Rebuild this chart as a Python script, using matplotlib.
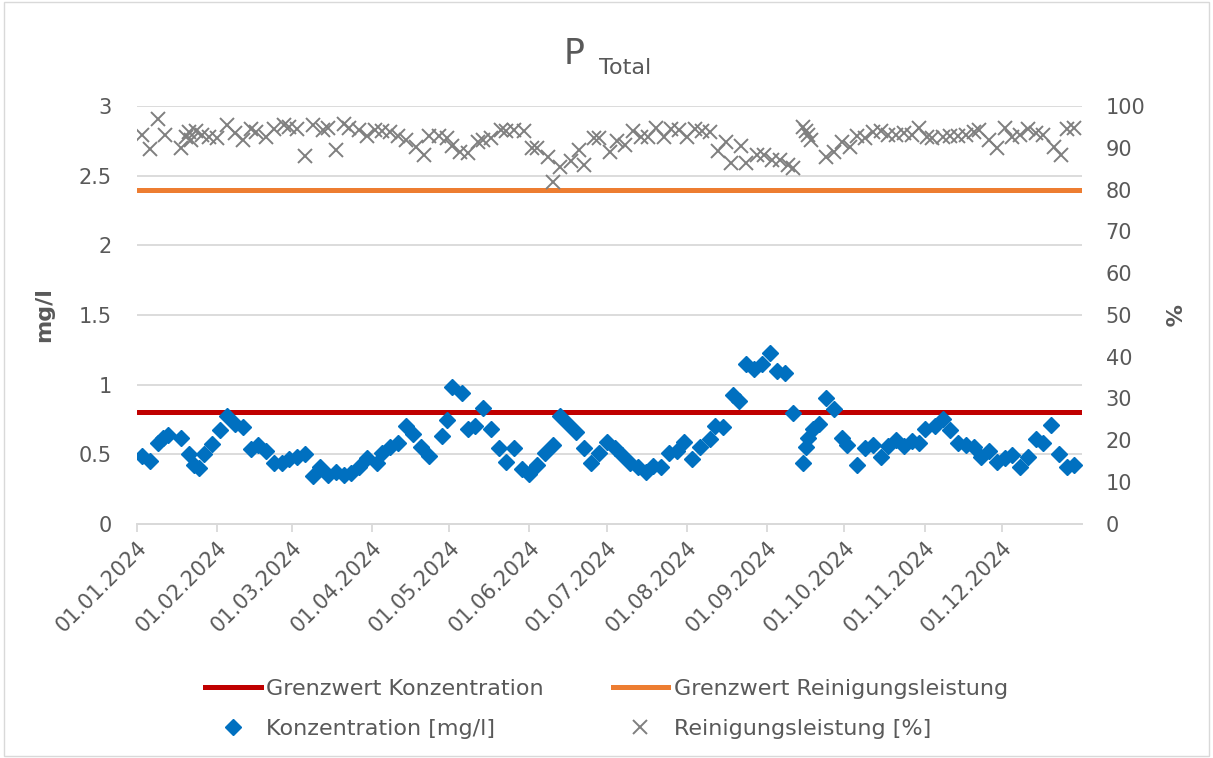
import numpy as np
import pandas as pd
import matplotlib
matplotlib.use("Agg")
import matplotlib.pyplot as plt
import matplotlib.dates as mdates
from matplotlib.lines import Line2D
from matplotlib.patches import Rectangle

# --- data (day of year offsets from 01.01.2024) ---
conc_days = [2, 5, 8, 10, 12, 17, 20, 22, 24, 26, 29, 32, 35, 38, 41, 44, 47, 50, 53, 56,
             59, 62, 65, 68, 71, 74, 77, 80, 83, 86, 89, 93, 95, 98, 101, 104, 107, 110, 113, 118,
             120, 122, 126, 128, 131, 134, 137, 140, 143, 146, 149, 152, 155, 158, 161, 164, 167, 170, 173, 176,
             179, 182, 185, 188, 191, 194, 197, 200, 203, 206, 209, 212, 215, 218, 222, 224, 227, 231, 233, 236,
             239, 242, 245, 248, 251, 254, 258, 259, 260, 262, 264, 267, 270, 273, 275, 279, 282, 285, 288, 291,
             294, 297, 300, 303, 305, 309, 312, 315, 318, 321, 324, 327, 330, 333, 336, 339, 342, 345, 348, 351,
             354, 357, 360, 363]
conc_values = [0.49, 0.45, 0.58, 0.615, 0.64, 0.615, 0.50, 0.42, 0.40, 0.50, 0.57, 0.675, 0.775, 0.715, 0.695, 0.535, 0.567, 0.52, 0.44, 0.44,
               0.465, 0.483, 0.50, 0.345, 0.41, 0.35, 0.375, 0.35, 0.365, 0.41, 0.47, 0.44, 0.51, 0.55, 0.58, 0.705, 0.645, 0.555, 0.485, 0.63,
               0.745, 0.98, 0.94, 0.68, 0.705, 0.83, 0.68, 0.545, 0.443, 0.545, 0.393, 0.357, 0.423, 0.51, 0.567, 0.775, 0.72, 0.66, 0.545, 0.44,
               0.51, 0.59, 0.545, 0.495, 0.435, 0.41, 0.375, 0.415, 0.41, 0.51, 0.525, 0.585, 0.465, 0.555, 0.61, 0.70, 0.695, 0.925, 0.88, 1.145,
               1.11, 1.145, 1.225, 1.095, 1.08, 0.795, 0.435, 0.555, 0.615, 0.68, 0.72, 0.90, 0.825, 0.615, 0.567, 0.423, 0.543, 0.567, 0.483, 0.56,
               0.603, 0.56, 0.596, 0.58, 0.68, 0.703, 0.75, 0.675, 0.58, 0.567, 0.55, 0.483, 0.52, 0.447, 0.47, 0.495, 0.405, 0.477, 0.61, 0.58,
               0.71, 0.50, 0.41, 0.423]

eff_days = [2, 5, 8, 11, 17, 19, 20, 21, 23, 25, 28, 31, 35, 38, 41, 44, 46, 50, 53, 57,
            59, 62, 65, 68, 72, 74, 77, 80, 82, 86, 89, 92, 95, 98, 101, 104, 108, 111, 113, 117,
            120, 122, 125, 128, 132, 134, 137, 141, 143, 146, 150, 153, 155, 159, 161, 164, 168, 171, 173, 177,
            179, 183, 186, 189, 192, 195, 198, 201, 204, 207, 210, 213, 216, 219, 222, 225, 228, 230, 234, 236,
            240, 243, 246, 249, 252, 254, 258, 259, 260, 261, 267, 270, 273, 276, 279, 282, 285, 288, 291, 294,
            297, 300, 303, 306, 308, 312, 315, 318, 321, 324, 326, 330, 333, 336, 339, 342, 345, 348, 351, 355,
            358, 360, 363]
eff_values = [93.2, 89.7, 96.9, 93.1, 89.9, 92.5, 93.8, 92.0, 94.0, 93.0, 92.7, 92.3, 95.5, 93.5, 91.9, 94.5, 93.7, 92.7, 94.5, 95.5,
              95.1, 94.5, 88.1, 95.5, 94.3, 94.8, 89.5, 95.6, 94.8, 94.3, 92.9, 94.3, 94.0, 93.9, 92.9, 91.9, 90.3, 88.3, 92.9, 92.9,
              92.3, 90.5, 89.1, 88.7, 91.5, 91.9, 92.3, 94.3, 94.0, 94.3, 94.0, 89.9, 89.9, 87.9, 81.9, 85.5, 86.8, 89.5, 86.0, 92.3,
              92.3, 89.1, 91.6, 90.8, 94.0, 92.7, 92.7, 94.8, 92.7, 94.5, 94.3, 92.7, 94.5, 94.0, 93.7, 89.2, 91.3, 86.5, 90.5, 86.3,
              88.3, 88.3, 87.1, 87.1, 86.0, 85.1, 95.0, 94.0, 93.0, 92.0, 87.9, 89.1, 91.5, 90.3, 92.9, 92.3, 93.9, 94.0, 93.2, 93.1,
              93.5, 93.2, 94.7, 92.7, 92.3, 92.7, 92.9, 92.9, 93.2, 93.9, 94.3, 91.9, 90.0, 94.7, 92.7, 93.1, 94.5, 93.5, 93.1, 90.3,
              88.3, 94.5, 94.7]

limit_conc = 0.8
limit_eff = 80

left_ticks = [0, 0.5, 1, 1.5, 2, 2.5, 3]
left_labels = ["0", "0.5", "1", "1.5", "2", "2.5", "3"]
right_ticks = list(range(0, 101, 10))
month_ticks = pd.date_range("2024-01-01", "2024-12-01", freq="MS")
month_labels = [d.strftime("%d.%m.%Y") for d in month_ticks]

legend_labels = ["Grenzwert Konzentration", "Konzentration [mg/l]",
                 "Grenzwert Reinigungsleistung", "Reinigungsleistung [%]"]

# --- styling ---
TEXT = "#595959"
GRID = "#D9D9D9"
BLUE = "#0070C0"
RED = "#C00000"
ORANGE = "#ED7D31"
GREY = "#7F7F7F"

plt.rcParams["font.family"] = ["DejaVu Sans"]

start = pd.Timestamp("2024-01-01")
conc_dates = start + pd.to_timedelta(conc_days, unit="D")
eff_dates = start + pd.to_timedelta(eff_days, unit="D")

fig = plt.figure(figsize=(12.13, 7.58), dpi=100)
ax = fig.add_axes([0.113, 0.309, 0.779, 0.551])
ax2 = ax.twinx()

# limit lines
ax.axhline(limit_conc, color=RED, lw=3.6, solid_capstyle="round", zorder=2)
ax2.axhline(limit_eff, color=ORANGE, lw=3.6, solid_capstyle="round", zorder=2)

# series
ax.plot(conc_dates, conc_values, ls="none", marker="D", ms=8.5, color=BLUE,
        markeredgecolor=BLUE, zorder=3)
ax2.plot(eff_dates, eff_values, ls="none", marker="x", ms=10, mew=1.4, color=GREY, zorder=3)

ax.set_xlim(pd.Timestamp("2024-01-01"), pd.Timestamp("2025-01-01"))
ax.set_ylim(0, 3)
ax2.set_ylim(0, 100)

ax.set_yticks(left_ticks)
ax.set_yticklabels(left_labels)
ax2.set_yticks(right_ticks)
ax.set_xticks(month_ticks)
ax.set_xticklabels(month_labels, rotation=45, ha="right", rotation_mode="anchor")

ax.grid(axis="y", color=GRID, lw=1.3)
ax.set_axisbelow(True)
for a in (ax, ax2):
    for side in ("top", "left", "right"):
        a.spines[side].set_visible(False)
    a.spines["bottom"].set_color(GRID)
    a.spines["bottom"].set_linewidth(1.3)

ax.tick_params(axis="x", colors=GRID, length=6, width=1.3, labelcolor=TEXT, labelsize=15, pad=4)
ax.tick_params(axis="y", length=0, labelcolor=TEXT, labelsize=15, pad=18)
ax2.tick_params(axis="y", length=0, labelcolor=TEXT, labelsize=15, pad=17)

ax.set_ylabel("mg/l", fontsize=16, fontweight="bold", color=TEXT, labelpad=18)
ax2.set_ylabel("%", fontsize=16, fontweight="bold", color=TEXT, rotation=270, labelpad=25)

# title with subscript
fig.text(0.482, 0.915, "P", fontsize=25, color=TEXT, ha="right", va="baseline")
fig.text(0.494, 0.903, "Total", fontsize=16, color=TEXT, ha="left", va="baseline")

handles = [
    Line2D([], [], color=RED, lw=3.6),
    Line2D([], [], ls="none", marker="D", ms=8.5, color=BLUE),
    Line2D([], [], color=ORANGE, lw=3.6),
    Line2D([], [], ls="none", marker="x", ms=10, mew=1.4, color=GREY),
]
fig.legend(handles, legend_labels, loc="center", bbox_to_anchor=(0.5, 0.065), ncol=2,
           frameon=False, fontsize=16, labelcolor=TEXT, handlelength=2.5,
           handletextpad=0.25, columnspacing=3.1, labelspacing=0.9)

# chart area border
fig.patches.append(Rectangle((0.003, 0.003), 0.994, 0.994, transform=fig.transFigure,
                             fill=False, edgecolor=GRID, lw=1.0))

fig.savefig("out.png", dpi=100)
